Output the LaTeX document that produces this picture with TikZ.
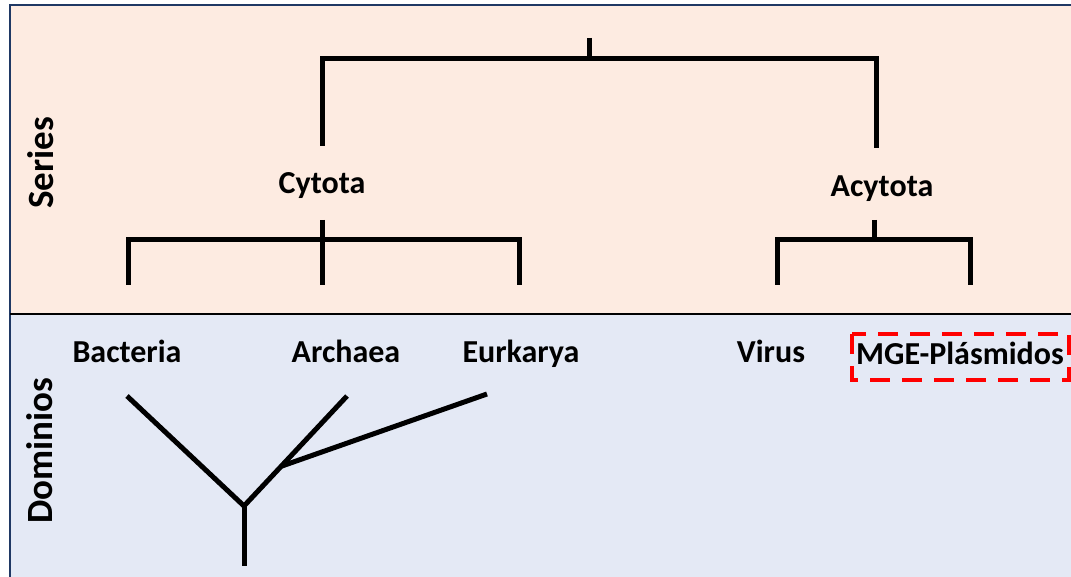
\documentclass[tikz,border=0pt]{standalone}
\usepackage{fontspec}
\setmainfont{Carlito}
\definecolor{peach}{HTML}{FDEBE1}
\definecolor{paleblue}{HTML}{E4E9F5}
\definecolor{navy}{HTML}{1F3864}
\begin{document}
\begin{tikzpicture}[x=1pt,y=-1pt,
  branch/.style={line width=5pt,black},
  taxon/.style={font=\fontsize{32}{38}\selectfont\bfseries,inner sep=0pt,anchor=base},
  rowlabel/.style={font=\fontsize{37}{44}\selectfont\bfseries,rotate=90,inner sep=0pt}]
\useasboundingbox (0,0) rectangle (1071,577);
% panels
\fill[peach] (10,5) rectangle (1075,314);
\fill[paleblue] (10,314) rectangle (1075,580);
\draw[navy,line width=2.5pt] (10,590) -- (10,5) -- (1080,5);
\draw[black,line width=2.5pt] (10,314) -- (1080,314);
\node[rowlabel] (series) at (41,163) {Series};
\node[rowlabel] (dominios) at (40,451) {Dominios};
% series level
\coordinate (root) at (589,38);
\coordinate (rootj) at (589,59);
\coordinate (cyt) at (322,146);
\coordinate (acy) at (876,148);
\draw[branch] (root) -- (rootj);
\draw[branch,line join=miter] (cyt) -- (cyt |- rootj) -- (acy |- rootj) -- (acy);
\node[taxon] (cytota) at (322,194) {Cytota};
\node[taxon] (acytota) at (882,197) {Acytota};
% cytota bracket
\coordinate (cj) at (322,220);
\coordinate (cl) at (128,285);
\coordinate (cm) at (322,285);
\coordinate (cr) at (519,285);
\draw[branch] (cj) -- (cm);
\draw[branch,line join=miter] (cl) -- (128,240) -- (519,240) -- (cr);
% acytota bracket
\coordinate (aj) at (874,220);
\coordinate (al) at (777,285);
\coordinate (ar) at (970,285);
\draw[branch] (aj) -- (874,240);
\draw[branch,line join=miter] (al) -- (777,240) -- (970,240) -- (ar);
% domains
\node[taxon] (bacteria) at (127,362) {Bacteria};
\node[taxon] (archaea) at (346,362) {Archaea};
\node[taxon] (eurkarya) at (521,362) {Eurkarya};
\node[taxon] (virus) at (771,362) {Virus};
\node[taxon] (mge) at (960,364) {MGE-Plásmidos};
\draw[red,line width=4pt,dash pattern=on 20pt off 12pt] (852,334) rectangle (1069,380);
% unrooted tree of the cellular domains
\coordinate (tb) at (127,396);
\coordinate (ta) at (347,396);
\coordinate (te) at (487,394);
\coordinate (tj) at (244,506);
\coordinate (tk) at (282,466);
\coordinate (tr) at (244,566);
\draw[branch,line join=miter] (tb) -- (tj) -- (ta);
\draw[branch] (tk) -- (te);
\draw[branch] (tj) -- (tr);
\end{tikzpicture}
\end{document}
